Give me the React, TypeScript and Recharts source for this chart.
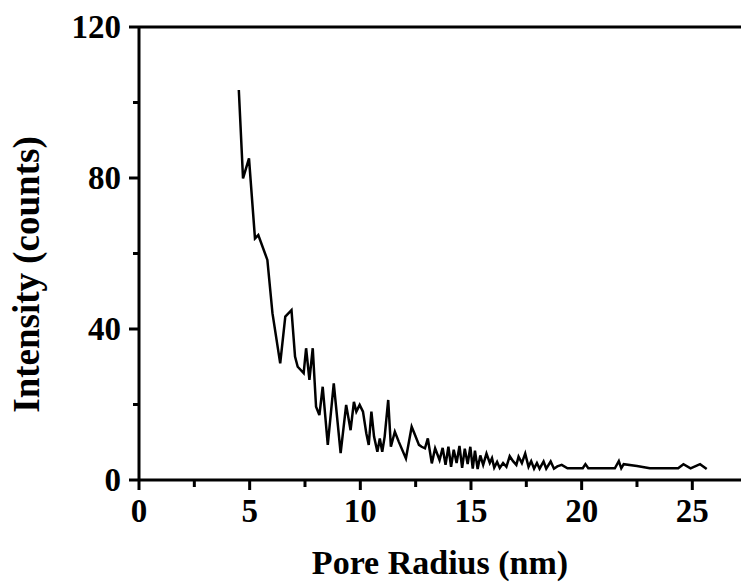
import React from 'react'
import { LineChart, Line, XAxis, YAxis, ReferenceLine } from 'recharts'

// pore radius (nm) and intensity (counts)
const radius = [
  4.51, 4.7, 4.97, 5.24, 5.39, 5.8, 6.03, 6.38, 6.61, 6.89, 7.05, 7.17, 7.44, 7.55, 7.7, 7.85,
  8.0, 8.15, 8.3, 8.53, 8.8, 9.11, 9.36, 9.56, 9.71, 9.82, 9.97, 10.12, 10.27, 10.38, 10.5,
  10.62, 10.77, 10.88, 10.99, 11.1, 11.26, 11.38, 11.56, 11.74, 12.06, 12.32, 12.44, 12.65,
  12.77, 12.92, 13.05, 13.23, 13.38, 13.58, 13.72, 13.85, 13.98, 14.1, 14.22, 14.35, 14.48,
  14.6, 14.72, 14.85, 14.97, 15.08, 15.18, 15.3, 15.42, 15.55, 15.7, 15.85, 15.95, 16.05,
  16.18, 16.3, 16.45, 16.6, 16.75, 16.9, 17.05, 17.15, 17.3, 17.45, 17.6, 17.72, 17.85,
  17.98, 18.1, 18.28, 18.4, 18.6, 18.75, 18.9, 19.1, 19.36, 20.05, 20.17, 20.3, 21.5, 21.68,
  21.79, 21.9, 22.5, 23.08, 24.36, 24.6, 24.92, 25.35, 25.65,
]
const intensity = [
  103.3, 79.9, 85.2, 64.0, 64.9, 58.3, 44.2, 30.9, 43.3, 45.0, 32.7, 30.0, 28.3, 34.9, 26.5, 34.9,
  19.4, 17.2, 24.7, 9.3, 25.6, 7.1, 19.9, 13.2, 20.7, 18.1, 19.9, 18.1, 12.4, 9.3, 18.1,
  11.5, 7.5, 11.0, 7.5, 11.5, 21.2, 8.8, 12.8, 10.1, 5.7, 14.1, 12.4, 9.3,
  8.8, 8.4, 11.0, 4.4, 8.4, 5.3, 8.5, 4.0, 8.8, 3.5, 8.0, 4.5, 9.0,
  3.2, 8.3, 4.2, 8.8, 3.0, 7.8, 2.9, 6.5, 4.0, 7.0, 4.5, 5.8, 3.3,
  4.8, 3.2, 4.5, 3.5, 6.3, 5.0, 4.0, 6.2, 4.5, 7.0, 3.5, 5.0, 3.0,
  4.5, 3.0, 4.9, 3.0, 4.9, 3.0, 3.6, 4.0, 3.1, 3.1, 4.2, 3.1, 3.1, 5.0,
  3.1, 4.2, 3.7, 3.1, 3.1, 4.2, 3.1, 4.2, 2.9,
]

const xTicks = [0, 2.5, 5, 7.5, 10, 12.5, 15, 17.5, 20, 22.5, 25]
const xMajor = [0, 5, 10, 15, 20, 25]
const yTicks = [0, 20, 40, 60, 80, 100, 120]
const yMajor = [0, 40, 80, 120]

const data = radius.map((r, i) => ({ r, v: intensity[i] }))

const font = '"Liberation Serif", "Times New Roman", serif'

const XTick = ({ x, y, payload }: any) => {
  const major = xMajor.includes(payload.value)
  return (
    <g>
      <line x1={x} y1={y} x2={x} y2={y + (major ? 10 : 7)} stroke="#000" strokeWidth={3} />
      {major && (
        <text x={x} y={y + 42} textAnchor="middle" fontFamily={font} fontWeight="bold" fontSize={33} fill="#000">
          {payload.value}
        </text>
      )}
    </g>
  )
}

const YTick = ({ x, y, payload }: any) => {
  const major = yMajor.includes(payload.value)
  return (
    <g>
      <line x1={x - (major ? 10 : 6)} y1={y} x2={x} y2={y} stroke="#000" strokeWidth={3} />
      {major && (
        <text x={x - 18} y={y + 11} textAnchor="end" fontFamily={font} fontWeight="bold" fontSize={33} fill="#000">
          {payload.value}
        </text>
      )}
    </g>
  )
}

const XTitle = ({ viewBox }: any) => (
  <text
    x={viewBox.x + viewBox.width / 2}
    y={viewBox.y + 94}
    textAnchor="middle"
    fontFamily={font}
    fontWeight="bold"
    fontSize={34}
    fill="#000"
  >
    Pore Radius (nm)
  </text>
)

const YTitle = ({ viewBox }: any) => {
  const cx = viewBox.x + 26
  const cy = viewBox.y + viewBox.height / 2 + 21
  return (
    <text
      x={cx}
      y={cy}
      transform={`rotate(-90, ${cx}, ${cy})`}
      textAnchor="middle"
      dominantBaseline="central"
      fontFamily={font}
      fontWeight="bold"
      fontSize={37}
      fill="#000"
    >
      Intensity (counts)
    </text>
  )
}

export default function App() {
  return (
    <div style={{ position: 'fixed', left: 0, top: 0, width: 741, height: 584, background: '#fff' }}>
      <LineChart width={741} height={584} data={data} margin={{ top: 27, right: 0, bottom: 0, left: 0 }}>
        <XAxis
          dataKey="r"
          type="number"
          domain={[0, 27.2]}
          ticks={xTicks}
          interval={0}
          tick={<XTick />}
          tickLine={false}
          tickSize={0}
          tickMargin={0}
          height={104}
          axisLine={{ stroke: '#000', strokeWidth: 3 }}
          allowDataOverflow
          label={<XTitle />}
        />
        <YAxis
          type="number"
          domain={[0, 120]}
          ticks={yTicks}
          interval={0}
          tick={<YTick />}
          tickLine={false}
          tickSize={0}
          tickMargin={0}
          width={139}
          axisLine={{ stroke: '#000', strokeWidth: 3 }}
          label={<YTitle />}
        />
        <ReferenceLine y={120} stroke="#000" strokeWidth={3} />
        <Line
          type="linear"
          dataKey="v"
          stroke="#000"
          strokeWidth={2.5}
          dot={false}
          isAnimationActive={false}
        />
      </LineChart>
    </div>
  )
}
